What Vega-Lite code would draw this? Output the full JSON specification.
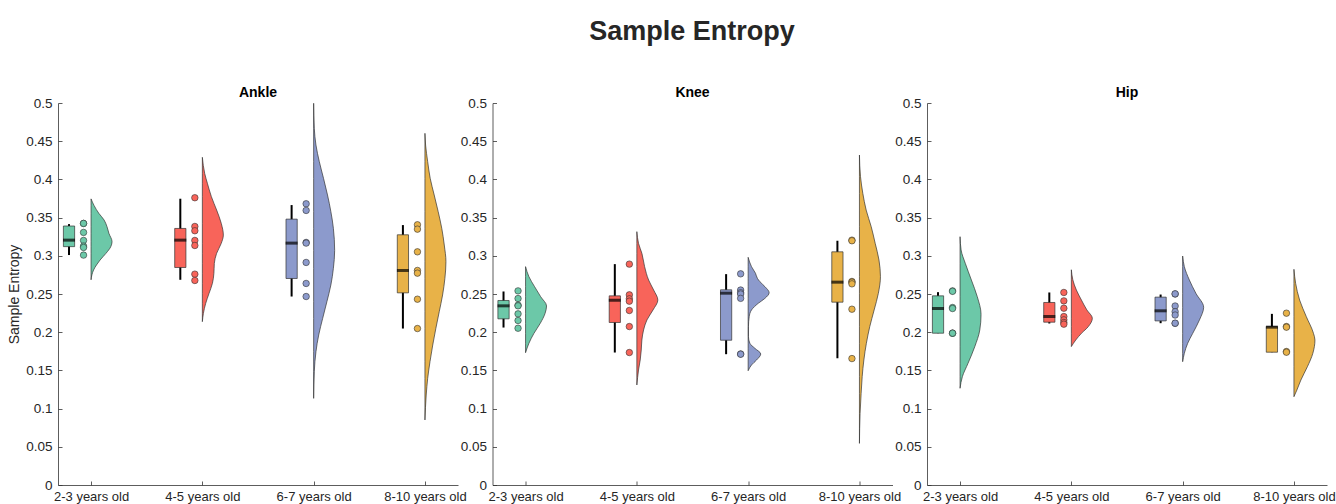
{
"$schema": "https://vega.github.io/schema/vega-lite/v6.json",
"padding": {"left": 7, "top": 17, "right": 5, "bottom": 5},
"title": {"text": "Sample Entropy", "fontSize": 27, "fontWeight": "bold", "color": "#262626", "anchor": "middle", "frame": "group", "dx": 634, "offset": 40},
"config": {
  "font": "Liberation Sans",
  "view": {"stroke": null},
  "title": {"fontSize": 14, "fontWeight": "bold", "color": "#000000", "offset": -3.5},
  "axis": {"domainColor": "#333333", "tickColor": "#333333", "labelColor": "#262626", "labelFontSize": 13.5, "titleFontSize": 14, "titleFontWeight": "normal", "titleColor": "#262626", "grid": false, "domainWidth": 0.8, "tickWidth": 0.8, "labelOverlap": false},
  "axisX": {"labelFontSize": 13},
  "axisY": {"tickCount": 12, "labelOverlap": false}
},
"data": {"values": [
{"kind":"box","joint":"Ankle","group":"2-3 years old","lo":0.301,"q1":0.312,"med":0.3205,"q3":0.339,"hi":0.3415},
{"kind":"box","joint":"Ankle","group":"4-5 years old","lo":0.2686,"q1":0.2847,"med":0.3205,"q3":0.3358,"hi":0.3747},
{"kind":"box","joint":"Ankle","group":"6-7 years old","lo":0.2467,"q1":0.2703,"med":0.3166,"q3":0.348,"hi":0.3664},
{"kind":"box","joint":"Ankle","group":"8-10 years old","lo":0.2048,"q1":0.2515,"med":0.2808,"q3":0.3275,"hi":0.3402},
{"kind":"box","joint":"Knee","group":"2-3 years old","lo":0.2061,"q1":0.2175,"med":0.2345,"q3":0.2415,"hi":0.2533},
{"kind":"box","joint":"Knee","group":"4-5 years old","lo":0.1734,"q1":0.2127,"med":0.2419,"q3":0.2476,"hi":0.2891},
{"kind":"box","joint":"Knee","group":"6-7 years old","lo":0.1712,"q1":0.1895,"med":0.2511,"q3":0.2555,"hi":0.276},
{"kind":"box","joint":"Knee","group":"8-10 years old","lo":0.1659,"q1":0.2393,"med":0.2655,"q3":0.3052,"hi":0.3197},
{"kind":"box","joint":"Hip","group":"2-3 years old","lo":0.1987,"q1":0.1987,"med":0.231,"q3":0.2476,"hi":0.2524},
{"kind":"box","joint":"Hip","group":"4-5 years old","lo":0.2114,"q1":0.2131,"med":0.2205,"q3":0.2389,"hi":0.252},
{"kind":"box","joint":"Hip","group":"6-7 years old","lo":0.2118,"q1":0.2148,"med":0.228,"q3":0.2459,"hi":0.2493},
{"kind":"box","joint":"Hip","group":"8-10 years old","lo":0.1738,"q1":0.1738,"med":0.2066,"q3":0.2074,"hi":0.224},

{"kind":"pt","joint":"Ankle","group":"2-3 years old","v":0.3424},
{"kind":"pt","joint":"Ankle","group":"2-3 years old","v":0.3424},
{"kind":"pt","joint":"Ankle","group":"2-3 years old","v":0.3306},
{"kind":"pt","joint":"Ankle","group":"2-3 years old","v":0.3201},
{"kind":"pt","joint":"Ankle","group":"2-3 years old","v":0.3127},
{"kind":"pt","joint":"Ankle","group":"2-3 years old","v":0.3109},
{"kind":"pt","joint":"Ankle","group":"2-3 years old","v":0.3009},
{"kind":"pt","joint":"Ankle","group":"4-5 years old","v":0.376},
{"kind":"pt","joint":"Ankle","group":"4-5 years old","v":0.3384},
{"kind":"pt","joint":"Ankle","group":"4-5 years old","v":0.3328},
{"kind":"pt","joint":"Ankle","group":"4-5 years old","v":0.3201},
{"kind":"pt","joint":"Ankle","group":"4-5 years old","v":0.3135},
{"kind":"pt","joint":"Ankle","group":"4-5 years old","v":0.276},
{"kind":"pt","joint":"Ankle","group":"4-5 years old","v":0.2677},
{"kind":"pt","joint":"Ankle","group":"6-7 years old","v":0.3681},
{"kind":"pt","joint":"Ankle","group":"6-7 years old","v":0.3594},
{"kind":"pt","joint":"Ankle","group":"6-7 years old","v":0.3175},
{"kind":"pt","joint":"Ankle","group":"6-7 years old","v":0.3166},
{"kind":"pt","joint":"Ankle","group":"6-7 years old","v":0.2913},
{"kind":"pt","joint":"Ankle","group":"6-7 years old","v":0.2638},
{"kind":"pt","joint":"Ankle","group":"6-7 years old","v":0.2467},
{"kind":"pt","joint":"Ankle","group":"8-10 years old","v":0.3406},
{"kind":"pt","joint":"Ankle","group":"8-10 years old","v":0.3349},
{"kind":"pt","joint":"Ankle","group":"8-10 years old","v":0.3052},
{"kind":"pt","joint":"Ankle","group":"8-10 years old","v":0.2808},
{"kind":"pt","joint":"Ankle","group":"8-10 years old","v":0.2773},
{"kind":"pt","joint":"Ankle","group":"8-10 years old","v":0.2432},
{"kind":"pt","joint":"Ankle","group":"8-10 years old","v":0.2048},
{"kind":"pt","joint":"Knee","group":"2-3 years old","v":0.2541},
{"kind":"pt","joint":"Knee","group":"2-3 years old","v":0.2441},
{"kind":"pt","joint":"Knee","group":"2-3 years old","v":0.2354},
{"kind":"pt","joint":"Knee","group":"2-3 years old","v":0.2345},
{"kind":"pt","joint":"Knee","group":"2-3 years old","v":0.224},
{"kind":"pt","joint":"Knee","group":"2-3 years old","v":0.2153},
{"kind":"pt","joint":"Knee","group":"2-3 years old","v":0.2052},
{"kind":"pt","joint":"Knee","group":"4-5 years old","v":0.2891},
{"kind":"pt","joint":"Knee","group":"4-5 years old","v":0.2489},
{"kind":"pt","joint":"Knee","group":"4-5 years old","v":0.2437},
{"kind":"pt","joint":"Knee","group":"4-5 years old","v":0.2406},
{"kind":"pt","joint":"Knee","group":"4-5 years old","v":0.2284},
{"kind":"pt","joint":"Knee","group":"4-5 years old","v":0.2074},
{"kind":"pt","joint":"Knee","group":"4-5 years old","v":0.1734},
{"kind":"pt","joint":"Knee","group":"6-7 years old","v":0.2764},
{"kind":"pt","joint":"Knee","group":"6-7 years old","v":0.2552},
{"kind":"pt","joint":"Knee","group":"6-7 years old","v":0.2517},
{"kind":"pt","joint":"Knee","group":"6-7 years old","v":0.25},
{"kind":"pt","joint":"Knee","group":"6-7 years old","v":0.2443},
{"kind":"pt","joint":"Knee","group":"6-7 years old","v":0.1715},
{"kind":"pt","joint":"Knee","group":"6-7 years old","v":0.1712},
{"kind":"pt","joint":"Knee","group":"8-10 years old","v":0.3205},
{"kind":"pt","joint":"Knee","group":"8-10 years old","v":0.3197},
{"kind":"pt","joint":"Knee","group":"8-10 years old","v":0.2664},
{"kind":"pt","joint":"Knee","group":"8-10 years old","v":0.2655},
{"kind":"pt","joint":"Knee","group":"8-10 years old","v":0.2633},
{"kind":"pt","joint":"Knee","group":"8-10 years old","v":0.2301},
{"kind":"pt","joint":"Knee","group":"8-10 years old","v":0.1655},
{"kind":"pt","joint":"Hip","group":"2-3 years old","v":0.2541},
{"kind":"pt","joint":"Hip","group":"2-3 years old","v":0.2535},
{"kind":"pt","joint":"Hip","group":"2-3 years old","v":0.2323},
{"kind":"pt","joint":"Hip","group":"2-3 years old","v":0.231},
{"kind":"pt","joint":"Hip","group":"2-3 years old","v":0.1987},
{"kind":"pt","joint":"Hip","group":"2-3 years old","v":0.1987},
{"kind":"pt","joint":"Hip","group":"2-3 years old","v":0.1987},
{"kind":"pt","joint":"Hip","group":"4-5 years old","v":0.252},
{"kind":"pt","joint":"Hip","group":"4-5 years old","v":0.241},
{"kind":"pt","joint":"Hip","group":"4-5 years old","v":0.2314},
{"kind":"pt","joint":"Hip","group":"4-5 years old","v":0.2205},
{"kind":"pt","joint":"Hip","group":"4-5 years old","v":0.2162},
{"kind":"pt","joint":"Hip","group":"4-5 years old","v":0.2127},
{"kind":"pt","joint":"Hip","group":"4-5 years old","v":0.2105},
{"kind":"pt","joint":"Hip","group":"6-7 years old","v":0.25},
{"kind":"pt","joint":"Hip","group":"6-7 years old","v":0.2502},
{"kind":"pt","joint":"Hip","group":"6-7 years old","v":0.2343},
{"kind":"pt","joint":"Hip","group":"6-7 years old","v":0.2269},
{"kind":"pt","joint":"Hip","group":"6-7 years old","v":0.2225},
{"kind":"pt","joint":"Hip","group":"6-7 years old","v":0.2116},
{"kind":"pt","joint":"Hip","group":"6-7 years old","v":0.2118},
{"kind":"pt","joint":"Hip","group":"8-10 years old","v":0.2249},
{"kind":"pt","joint":"Hip","group":"8-10 years old","v":0.2074},
{"kind":"pt","joint":"Hip","group":"8-10 years old","v":0.2066},
{"kind":"pt","joint":"Hip","group":"8-10 years old","v":0.1747},
{"kind":"pt","joint":"Hip","group":"8-10 years old","v":0.1738},

{"kind":"vio","joint":"Ankle","group":"2-3 years old","v":0.3745,"dens":0},
{"kind":"vio","joint":"Ankle","group":"2-3 years old","v":0.366,"dens":0.14},
{"kind":"vio","joint":"Ankle","group":"2-3 years old","v":0.3556,"dens":0.37},
{"kind":"vio","joint":"Ankle","group":"2-3 years old","v":0.3469,"dens":0.62},
{"kind":"vio","joint":"Ankle","group":"2-3 years old","v":0.3381,"dens":0.76},
{"kind":"vio","joint":"Ankle","group":"2-3 years old","v":0.3294,"dens":0.85},
{"kind":"vio","joint":"Ankle","group":"2-3 years old","v":0.3185,"dens":1.0},
{"kind":"vio","joint":"Ankle","group":"2-3 years old","v":0.312,"dens":0.94},
{"kind":"vio","joint":"Ankle","group":"2-3 years old","v":0.3032,"dens":0.71},
{"kind":"vio","joint":"Ankle","group":"2-3 years old","v":0.2945,"dens":0.43},
{"kind":"vio","joint":"Ankle","group":"2-3 years old","v":0.288,"dens":0.26},
{"kind":"vio","joint":"Ankle","group":"2-3 years old","v":0.2814,"dens":0.12},
{"kind":"vio","joint":"Ankle","group":"2-3 years old","v":0.275,"dens":0.04},
{"kind":"vio","joint":"Ankle","group":"2-3 years old","v":0.2686,"dens":0},
{"kind":"vio","joint":"Ankle","group":"4-5 years old","v":0.4289,"dens":0},
{"kind":"vio","joint":"Ankle","group":"4-5 years old","v":0.408,"dens":0.11},
{"kind":"vio","joint":"Ankle","group":"4-5 years old","v":0.3949,"dens":0.24},
{"kind":"vio","joint":"Ankle","group":"4-5 years old","v":0.3774,"dens":0.43},
{"kind":"vio","joint":"Ankle","group":"4-5 years old","v":0.3599,"dens":0.68},
{"kind":"vio","joint":"Ankle","group":"4-5 years old","v":0.3425,"dens":0.9},
{"kind":"vio","joint":"Ankle","group":"4-5 years old","v":0.3272,"dens":1.0},
{"kind":"vio","joint":"Ankle","group":"4-5 years old","v":0.3163,"dens":0.9},
{"kind":"vio","joint":"Ankle","group":"4-5 years old","v":0.3032,"dens":0.68},
{"kind":"vio","joint":"Ankle","group":"4-5 years old","v":0.2901,"dens":0.57},
{"kind":"vio","joint":"Ankle","group":"4-5 years old","v":0.2771,"dens":0.55},
{"kind":"vio","joint":"Ankle","group":"4-5 years old","v":0.264,"dens":0.48},
{"kind":"vio","joint":"Ankle","group":"4-5 years old","v":0.2509,"dens":0.32},
{"kind":"vio","joint":"Ankle","group":"4-5 years old","v":0.2378,"dens":0.16},
{"kind":"vio","joint":"Ankle","group":"4-5 years old","v":0.2247,"dens":0.05},
{"kind":"vio","joint":"Ankle","group":"4-5 years old","v":0.2138,"dens":0},
{"kind":"vio","joint":"Ankle","group":"6-7 years old","v":0.4996,"dens":0},
{"kind":"vio","joint":"Ankle","group":"6-7 years old","v":0.4669,"dens":0.03},
{"kind":"vio","joint":"Ankle","group":"6-7 years old","v":0.445,"dens":0.11},
{"kind":"vio","joint":"Ankle","group":"6-7 years old","v":0.4232,"dens":0.27},
{"kind":"vio","joint":"Ankle","group":"6-7 years old","v":0.4014,"dens":0.47},
{"kind":"vio","joint":"Ankle","group":"6-7 years old","v":0.3796,"dens":0.66},
{"kind":"vio","joint":"Ankle","group":"6-7 years old","v":0.3578,"dens":0.82},
{"kind":"vio","joint":"Ankle","group":"6-7 years old","v":0.336,"dens":0.94},
{"kind":"vio","joint":"Ankle","group":"6-7 years old","v":0.307,"dens":1.0},
{"kind":"vio","joint":"Ankle","group":"6-7 years old","v":0.2836,"dens":0.94},
{"kind":"vio","joint":"Ankle","group":"6-7 years old","v":0.2618,"dens":0.82},
{"kind":"vio","joint":"Ankle","group":"6-7 years old","v":0.2399,"dens":0.63},
{"kind":"vio","joint":"Ankle","group":"6-7 years old","v":0.2181,"dens":0.43},
{"kind":"vio","joint":"Ankle","group":"6-7 years old","v":0.1963,"dens":0.24},
{"kind":"vio","joint":"Ankle","group":"6-7 years old","v":0.1745,"dens":0.11},
{"kind":"vio","joint":"Ankle","group":"6-7 years old","v":0.1483,"dens":0.03},
{"kind":"vio","joint":"Ankle","group":"6-7 years old","v":0.1134,"dens":0},
{"kind":"vio","joint":"Ankle","group":"8-10 years old","v":0.4603,"dens":0},
{"kind":"vio","joint":"Ankle","group":"8-10 years old","v":0.445,"dens":0.03},
{"kind":"vio","joint":"Ankle","group":"8-10 years old","v":0.4232,"dens":0.13},
{"kind":"vio","joint":"Ankle","group":"8-10 years old","v":0.4014,"dens":0.25},
{"kind":"vio","joint":"Ankle","group":"8-10 years old","v":0.3796,"dens":0.44},
{"kind":"vio","joint":"Ankle","group":"8-10 years old","v":0.3578,"dens":0.63},
{"kind":"vio","joint":"Ankle","group":"8-10 years old","v":0.336,"dens":0.8},
{"kind":"vio","joint":"Ankle","group":"8-10 years old","v":0.3141,"dens":0.92},
{"kind":"vio","joint":"Ankle","group":"8-10 years old","v":0.2923,"dens":1.0},
{"kind":"vio","joint":"Ankle","group":"8-10 years old","v":0.2705,"dens":0.95},
{"kind":"vio","joint":"Ankle","group":"8-10 years old","v":0.2487,"dens":0.84},
{"kind":"vio","joint":"Ankle","group":"8-10 years old","v":0.2268,"dens":0.68},
{"kind":"vio","joint":"Ankle","group":"8-10 years old","v":0.2051,"dens":0.52},
{"kind":"vio","joint":"Ankle","group":"8-10 years old","v":0.1832,"dens":0.37},
{"kind":"vio","joint":"Ankle","group":"8-10 years old","v":0.1614,"dens":0.24},
{"kind":"vio","joint":"Ankle","group":"8-10 years old","v":0.1396,"dens":0.13},
{"kind":"vio","joint":"Ankle","group":"8-10 years old","v":0.1178,"dens":0.06},
{"kind":"vio","joint":"Ankle","group":"8-10 years old","v":0.0851,"dens":0},
{"kind":"vio","joint":"Knee","group":"2-3 years old","v":0.2858,"dens":0},
{"kind":"vio","joint":"Knee","group":"2-3 years old","v":0.2727,"dens":0.16},
{"kind":"vio","joint":"Knee","group":"2-3 years old","v":0.2596,"dens":0.43},
{"kind":"vio","joint":"Knee","group":"2-3 years old","v":0.2465,"dens":0.72},
{"kind":"vio","joint":"Knee","group":"2-3 years old","v":0.2343,"dens":1.0},
{"kind":"vio","joint":"Knee","group":"2-3 years old","v":0.2247,"dens":0.93},
{"kind":"vio","joint":"Knee","group":"2-3 years old","v":0.2116,"dens":0.7},
{"kind":"vio","joint":"Knee","group":"2-3 years old","v":0.1985,"dens":0.4},
{"kind":"vio","joint":"Knee","group":"2-3 years old","v":0.1855,"dens":0.16},
{"kind":"vio","joint":"Knee","group":"2-3 years old","v":0.1732,"dens":0},
{"kind":"vio","joint":"Knee","group":"4-5 years old","v":0.3316,"dens":0},
{"kind":"vio","joint":"Knee","group":"4-5 years old","v":0.3163,"dens":0.08},
{"kind":"vio","joint":"Knee","group":"4-5 years old","v":0.3032,"dens":0.24},
{"kind":"vio","joint":"Knee","group":"4-5 years old","v":0.2858,"dens":0.37},
{"kind":"vio","joint":"Knee","group":"4-5 years old","v":0.2683,"dens":0.56},
{"kind":"vio","joint":"Knee","group":"4-5 years old","v":0.2552,"dens":0.8},
{"kind":"vio","joint":"Knee","group":"4-5 years old","v":0.2421,"dens":1.0},
{"kind":"vio","joint":"Knee","group":"4-5 years old","v":0.2291,"dens":0.77},
{"kind":"vio","joint":"Knee","group":"4-5 years old","v":0.216,"dens":0.48},
{"kind":"vio","joint":"Knee","group":"4-5 years old","v":0.2029,"dens":0.32},
{"kind":"vio","joint":"Knee","group":"4-5 years old","v":0.1898,"dens":0.24},
{"kind":"vio","joint":"Knee","group":"4-5 years old","v":0.1767,"dens":0.21},
{"kind":"vio","joint":"Knee","group":"4-5 years old","v":0.1636,"dens":0.16},
{"kind":"vio","joint":"Knee","group":"4-5 years old","v":0.1505,"dens":0.08},
{"kind":"vio","joint":"Knee","group":"4-5 years old","v":0.1309,"dens":0},
{"kind":"vio","joint":"Knee","group":"6-7 years old","v":0.298,"dens":0},
{"kind":"vio","joint":"Knee","group":"6-7 years old","v":0.2858,"dens":0.16},
{"kind":"vio","joint":"Knee","group":"6-7 years old","v":0.2771,"dens":0.35},
{"kind":"vio","joint":"Knee","group":"6-7 years old","v":0.2705,"dens":0.44},
{"kind":"vio","joint":"Knee","group":"6-7 years old","v":0.2661,"dens":0.56},
{"kind":"vio","joint":"Knee","group":"6-7 years old","v":0.2596,"dens":0.8},
{"kind":"vio","joint":"Knee","group":"6-7 years old","v":0.2517,"dens":1.0},
{"kind":"vio","joint":"Knee","group":"6-7 years old","v":0.2443,"dens":0.8},
{"kind":"vio","joint":"Knee","group":"6-7 years old","v":0.2378,"dens":0.48},
{"kind":"vio","joint":"Knee","group":"6-7 years old","v":0.2291,"dens":0.16},
{"kind":"vio","joint":"Knee","group":"6-7 years old","v":0.2203,"dens":0.05},
{"kind":"vio","joint":"Knee","group":"6-7 years old","v":0.2072,"dens":0.015},
{"kind":"vio","joint":"Knee","group":"6-7 years old","v":0.1941,"dens":0.015},
{"kind":"vio","joint":"Knee","group":"6-7 years old","v":0.1855,"dens":0.08},
{"kind":"vio","joint":"Knee","group":"6-7 years old","v":0.1789,"dens":0.32},
{"kind":"vio","joint":"Knee","group":"6-7 years old","v":0.1715,"dens":0.6},
{"kind":"vio","joint":"Knee","group":"6-7 years old","v":0.1636,"dens":0.4},
{"kind":"vio","joint":"Knee","group":"6-7 years old","v":0.1571,"dens":0.16},
{"kind":"vio","joint":"Knee","group":"6-7 years old","v":0.1496,"dens":0},
{"kind":"vio","joint":"Knee","group":"8-10 years old","v":0.4319,"dens":0},
{"kind":"vio","joint":"Knee","group":"8-10 years old","v":0.4035,"dens":0.05},
{"kind":"vio","joint":"Knee","group":"8-10 years old","v":0.3818,"dens":0.16},
{"kind":"vio","joint":"Knee","group":"8-10 years old","v":0.3599,"dens":0.32},
{"kind":"vio","joint":"Knee","group":"8-10 years old","v":0.3381,"dens":0.56},
{"kind":"vio","joint":"Knee","group":"8-10 years old","v":0.3163,"dens":0.75},
{"kind":"vio","joint":"Knee","group":"8-10 years old","v":0.2945,"dens":0.93},
{"kind":"vio","joint":"Knee","group":"8-10 years old","v":0.2727,"dens":1.0},
{"kind":"vio","joint":"Knee","group":"8-10 years old","v":0.2509,"dens":0.9},
{"kind":"vio","joint":"Knee","group":"8-10 years old","v":0.2291,"dens":0.7},
{"kind":"vio","joint":"Knee","group":"8-10 years old","v":0.2072,"dens":0.49},
{"kind":"vio","joint":"Knee","group":"8-10 years old","v":0.1855,"dens":0.33},
{"kind":"vio","joint":"Knee","group":"8-10 years old","v":0.1636,"dens":0.21},
{"kind":"vio","joint":"Knee","group":"8-10 years old","v":0.1418,"dens":0.13},
{"kind":"vio","joint":"Knee","group":"8-10 years old","v":0.12,"dens":0.08},
{"kind":"vio","joint":"Knee","group":"8-10 years old","v":0.0938,"dens":0.03},
{"kind":"vio","joint":"Knee","group":"8-10 years old","v":0.0545,"dens":0},
{"kind":"vio","joint":"Hip","group":"2-3 years old","v":0.325,"dens":0},
{"kind":"vio","joint":"Hip","group":"2-3 years old","v":0.3076,"dens":0.05},
{"kind":"vio","joint":"Hip","group":"2-3 years old","v":0.2901,"dens":0.25},
{"kind":"vio","joint":"Hip","group":"2-3 years old","v":0.2683,"dens":0.54},
{"kind":"vio","joint":"Hip","group":"2-3 years old","v":0.2465,"dens":0.82},
{"kind":"vio","joint":"Hip","group":"2-3 years old","v":0.2234,"dens":1.0},
{"kind":"vio","joint":"Hip","group":"2-3 years old","v":0.2029,"dens":0.94},
{"kind":"vio","joint":"Hip","group":"2-3 years old","v":0.181,"dens":0.7},
{"kind":"vio","joint":"Hip","group":"2-3 years old","v":0.1593,"dens":0.38},
{"kind":"vio","joint":"Hip","group":"2-3 years old","v":0.1418,"dens":0.11},
{"kind":"vio","joint":"Hip","group":"2-3 years old","v":0.1266,"dens":0},
{"kind":"vio","joint":"Hip","group":"4-5 years old","v":0.2817,"dens":0},
{"kind":"vio","joint":"Hip","group":"4-5 years old","v":0.2686,"dens":0.07},
{"kind":"vio","joint":"Hip","group":"4-5 years old","v":0.2552,"dens":0.24},
{"kind":"vio","joint":"Hip","group":"4-5 years old","v":0.2421,"dens":0.48},
{"kind":"vio","joint":"Hip","group":"4-5 years old","v":0.2291,"dens":0.74},
{"kind":"vio","joint":"Hip","group":"4-5 years old","v":0.2183,"dens":1.0},
{"kind":"vio","joint":"Hip","group":"4-5 years old","v":0.2074,"dens":0.81},
{"kind":"vio","joint":"Hip","group":"4-5 years old","v":0.1985,"dens":0.48},
{"kind":"vio","joint":"Hip","group":"4-5 years old","v":0.1898,"dens":0.21},
{"kind":"vio","joint":"Hip","group":"4-5 years old","v":0.1812,"dens":0},
{"kind":"vio","joint":"Hip","group":"6-7 years old","v":0.2997,"dens":0},
{"kind":"vio","joint":"Hip","group":"6-7 years old","v":0.2858,"dens":0.08},
{"kind":"vio","joint":"Hip","group":"6-7 years old","v":0.2683,"dens":0.32},
{"kind":"vio","joint":"Hip","group":"6-7 years old","v":0.2509,"dens":0.63},
{"kind":"vio","joint":"Hip","group":"6-7 years old","v":0.2326,"dens":1.0},
{"kind":"vio","joint":"Hip","group":"6-7 years old","v":0.216,"dens":0.8},
{"kind":"vio","joint":"Hip","group":"6-7 years old","v":0.1985,"dens":0.48},
{"kind":"vio","joint":"Hip","group":"6-7 years old","v":0.1855,"dens":0.24},
{"kind":"vio","joint":"Hip","group":"6-7 years old","v":0.1724,"dens":0.08},
{"kind":"vio","joint":"Hip","group":"6-7 years old","v":0.1614,"dens":0},
{"kind":"vio","joint":"Hip","group":"8-10 years old","v":0.2823,"dens":0},
{"kind":"vio","joint":"Hip","group":"8-10 years old","v":0.264,"dens":0.08},
{"kind":"vio","joint":"Hip","group":"8-10 years old","v":0.2421,"dens":0.27},
{"kind":"vio","joint":"Hip","group":"8-10 years old","v":0.2203,"dens":0.59},
{"kind":"vio","joint":"Hip","group":"8-10 years old","v":0.1985,"dens":0.93},
{"kind":"vio","joint":"Hip","group":"8-10 years old","v":0.1898,"dens":1.0},
{"kind":"vio","joint":"Hip","group":"8-10 years old","v":0.1724,"dens":0.9},
{"kind":"vio","joint":"Hip","group":"8-10 years old","v":0.1548,"dens":0.64},
{"kind":"vio","joint":"Hip","group":"8-10 years old","v":0.1374,"dens":0.33},
{"kind":"vio","joint":"Hip","group":"8-10 years old","v":0.1243,"dens":0.14},
{"kind":"vio","joint":"Hip","group":"8-10 years old","v":0.1156,"dens":0}
]},
"hconcat": [
{
 "width": 400, "height": 382,
 "title": {"text": "Ankle"},
 "transform": [{"filter": "datum.joint == 'Ankle'"}],
 "resolve": {"scale": {"x": "independent"}},
 "layer": [
  {"transform": [{"filter": "datum.kind == 'box'"}],
   "mark": {"type": "point", "opacity": 0},
   "encoding": {
    "x": {"field": "group", "type": "nominal", "scale": {"type": "point", "domain": ["2-3 years old","4-5 years old","6-7 years old","8-10 years old"], "padding": 0.297}, "axis": {"title": null, "labelAngle": 0, "tickSize": -4, "labelPadding": 9, "labelOverlap": false}},
    "y": {"field": "med", "type": "quantitative", "scale": {"domain": [0, 0.5], "nice": false}, "axis": {"title": "Sample Entropy", "values": [0,0.05,0.1,0.15,0.2,0.25,0.3,0.35,0.4,0.45,0.5], "tickCount": 12, "format": "~g", "tickSize": -4, "labelPadding": 10, "titlePadding": 4, "labelOverlap": false}}}},
  {"transform": [{"filter": "datum.kind == 'box'"}],
   "encoding": {"x": {"field": "group", "type": "nominal", "scale": {"type": "band", "domain": ["2-3 years old","4-5 years old","6-7 years old","8-10 years old"], "paddingInner": 0.899, "paddingOuter": 0.2465, "align": 0.0984}, "axis": null}},
   "layer": [
    {"mark": {"type": "rule", "color": "#000000", "strokeWidth": 2}, "encoding": {"y": {"field": "lo", "type": "quantitative", "axis": {"title": "Sample Entropy", "values": [0,0.05,0.1,0.15,0.2,0.25,0.3,0.35,0.4,0.45,0.5], "tickCount": 12, "format": "~g", "tickSize": -4, "labelPadding": 10, "titlePadding": 4, "labelOverlap": false}}, "y2": {"field": "hi"}}},
    {"mark": {"type": "bar", "stroke": "#333333", "strokeWidth": 0.7}, "encoding": {"y": {"field": "q1", "type": "quantitative", "axis": {"title": "Sample Entropy", "values": [0,0.05,0.1,0.15,0.2,0.25,0.3,0.35,0.4,0.45,0.5], "tickCount": 12, "format": "~g", "tickSize": -4, "labelPadding": 10, "titlePadding": 4, "labelOverlap": false}}, "y2": {"field": "q3"}, "color": {"field": "group", "type": "nominal", "scale": {"domain": ["2-3 years old","4-5 years old","6-7 years old","8-10 years old"], "range": ["#6CC8A8","#F8645A","#8C9ACC","#E8B248"]}, "legend": null}}},
    {"mark": {"type": "tick", "orient": "horizontal", "color": "#000000", "thickness": 3, "size": 12}, "encoding": {"y": {"field": "med", "type": "quantitative", "axis": {"title": "Sample Entropy", "values": [0,0.05,0.1,0.15,0.2,0.25,0.3,0.35,0.4,0.45,0.5], "tickCount": 12, "format": "~g", "tickSize": -4, "labelPadding": 10, "titlePadding": 4, "labelOverlap": false}}}}
   ]},
  {"transform": [{"filter": "datum.kind == 'pt'"}],
   "mark": {"type": "circle", "size": 42, "opacity": 1, "stroke": "#333333", "strokeWidth": 0.6},
   "encoding": {
    "x": {"field": "group", "type": "nominal", "scale": {"type": "point", "domain": ["2-3 years old","4-5 years old","6-7 years old","8-10 years old"], "padding": 0.297, "align": 0.3865}, "axis": null},
    "y": {"field": "v", "type": "quantitative", "axis": {"title": "Sample Entropy", "values": [0,0.05,0.1,0.15,0.2,0.25,0.3,0.35,0.4,0.45,0.5], "tickCount": 12, "format": "~g", "tickSize": -4, "labelPadding": 10, "titlePadding": 4, "labelOverlap": false}},
    "color": {"field": "group", "type": "nominal", "scale": {"domain": ["2-3 years old","4-5 years old","6-7 years old","8-10 years old"], "range": ["#6CC8A8","#F8645A","#8C9ACC","#E8B248"]}, "legend": null}}},
  {"transform": [{"filter": "datum.kind == 'vio' && datum.group == '2-3 years old'"}],
   "mark": {"type": "area", "orient": "horizontal", "interpolate": "monotone", "fill": "#6CC8A8", "stroke": "#333333", "strokeWidth": 0.7},
   "encoding": {"x": {"field": "dens", "type": "quantitative", "scale": {"domain": [-1.5738, 17.4738], "nice": false}, "axis": null}, "y": {"field": "v", "type": "quantitative", "axis": {"title": "Sample Entropy", "values": [0,0.05,0.1,0.15,0.2,0.25,0.3,0.35,0.4,0.45,0.5], "tickCount": 12, "format": "~g", "tickSize": -4, "labelPadding": 10, "titlePadding": 4, "labelOverlap": false}}}},
  {"transform": [{"filter": "datum.kind == 'vio' && datum.group == '4-5 years old'"}],
   "mark": {"type": "area", "orient": "horizontal", "interpolate": "monotone", "fill": "#F8645A", "stroke": "#333333", "strokeWidth": 0.7},
   "encoding": {"x": {"field": "dens", "type": "quantitative", "scale": {"domain": [-6.8738, 12.1738], "nice": false}, "axis": null}, "y": {"field": "v", "type": "quantitative", "axis": {"title": "Sample Entropy", "values": [0,0.05,0.1,0.15,0.2,0.25,0.3,0.35,0.4,0.45,0.5], "tickCount": 12, "format": "~g", "tickSize": -4, "labelPadding": 10, "titlePadding": 4, "labelOverlap": false}}}},
  {"transform": [{"filter": "datum.kind == 'vio' && datum.group == '6-7 years old'"}],
   "mark": {"type": "area", "orient": "horizontal", "interpolate": "monotone", "fill": "#8C9ACC", "stroke": "#333333", "strokeWidth": 0.7},
   "encoding": {"x": {"field": "dens", "type": "quantitative", "scale": {"domain": [-12.1738, 6.8738], "nice": false}, "axis": null}, "y": {"field": "v", "type": "quantitative", "axis": {"title": "Sample Entropy", "values": [0,0.05,0.1,0.15,0.2,0.25,0.3,0.35,0.4,0.45,0.5], "tickCount": 12, "format": "~g", "tickSize": -4, "labelPadding": 10, "titlePadding": 4, "labelOverlap": false}}}},
  {"transform": [{"filter": "datum.kind == 'vio' && datum.group == '8-10 years old'"}],
   "mark": {"type": "area", "orient": "horizontal", "interpolate": "monotone", "fill": "#E8B248", "stroke": "#333333", "strokeWidth": 0.7},
   "encoding": {"x": {"field": "dens", "type": "quantitative", "scale": {"domain": [-17.4738, 1.5738], "nice": false}, "axis": null}, "y": {"field": "v", "type": "quantitative", "axis": {"title": "Sample Entropy", "values": [0,0.05,0.1,0.15,0.2,0.25,0.3,0.35,0.4,0.45,0.5], "tickCount": 12, "format": "~g", "tickSize": -4, "labelPadding": 10, "titlePadding": 4, "labelOverlap": false}}}}
 ]
},
{
 "width": 400, "height": 382,
 "title": {"text": "Knee"},
 "transform": [{"filter": "datum.joint == 'Knee'"}],
 "resolve": {"scale": {"x": "independent"}},
 "layer": [
  {"transform": [{"filter": "datum.kind == 'box'"}],
   "mark": {"type": "point", "opacity": 0},
   "encoding": {
    "x": {"field": "group", "type": "nominal", "scale": {"type": "point", "domain": ["2-3 years old","4-5 years old","6-7 years old","8-10 years old"], "padding": 0.297}, "axis": {"title": null, "labelAngle": 0, "tickSize": -4, "labelPadding": 9, "labelOverlap": false}},
    "y": {"field": "med", "type": "quantitative", "scale": {"domain": [0, 0.5], "nice": false}, "axis": {"title": null, "values": [0,0.05,0.1,0.15,0.2,0.25,0.3,0.35,0.4,0.45,0.5], "tickCount": 12, "format": "~g", "tickSize": -4, "labelPadding": 10, "labelOverlap": false}}}},
  {"transform": [{"filter": "datum.kind == 'box'"}],
   "encoding": {"x": {"field": "group", "type": "nominal", "scale": {"type": "band", "domain": ["2-3 years old","4-5 years old","6-7 years old","8-10 years old"], "paddingInner": 0.899, "paddingOuter": 0.2465, "align": 0.0984}, "axis": null}},
   "layer": [
    {"mark": {"type": "rule", "color": "#000000", "strokeWidth": 2}, "encoding": {"y": {"field": "lo", "type": "quantitative", "axis": {"title": null, "values": [0,0.05,0.1,0.15,0.2,0.25,0.3,0.35,0.4,0.45,0.5], "tickCount": 12, "format": "~g", "tickSize": -4, "labelPadding": 10, "labelOverlap": false}}, "y2": {"field": "hi"}}},
    {"mark": {"type": "bar", "stroke": "#333333", "strokeWidth": 0.7}, "encoding": {"y": {"field": "q1", "type": "quantitative", "axis": {"title": null, "values": [0,0.05,0.1,0.15,0.2,0.25,0.3,0.35,0.4,0.45,0.5], "tickCount": 12, "format": "~g", "tickSize": -4, "labelPadding": 10, "labelOverlap": false}}, "y2": {"field": "q3"}, "color": {"field": "group", "type": "nominal", "scale": {"domain": ["2-3 years old","4-5 years old","6-7 years old","8-10 years old"], "range": ["#6CC8A8","#F8645A","#8C9ACC","#E8B248"]}, "legend": null}}},
    {"mark": {"type": "tick", "orient": "horizontal", "color": "#000000", "thickness": 3, "size": 12}, "encoding": {"y": {"field": "med", "type": "quantitative", "axis": {"title": null, "values": [0,0.05,0.1,0.15,0.2,0.25,0.3,0.35,0.4,0.45,0.5], "tickCount": 12, "format": "~g", "tickSize": -4, "labelPadding": 10, "labelOverlap": false}}}}
   ]},
  {"transform": [{"filter": "datum.kind == 'pt'"}],
   "mark": {"type": "circle", "size": 42, "opacity": 1, "stroke": "#333333", "strokeWidth": 0.6},
   "encoding": {
    "x": {"field": "group", "type": "nominal", "scale": {"type": "point", "domain": ["2-3 years old","4-5 years old","6-7 years old","8-10 years old"], "padding": 0.297, "align": 0.3865}, "axis": null},
    "y": {"field": "v", "type": "quantitative", "axis": {"title": null, "values": [0,0.05,0.1,0.15,0.2,0.25,0.3,0.35,0.4,0.45,0.5], "tickCount": 12, "format": "~g", "tickSize": -4, "labelPadding": 10, "labelOverlap": false}},
    "color": {"field": "group", "type": "nominal", "scale": {"domain": ["2-3 years old","4-5 years old","6-7 years old","8-10 years old"], "range": ["#6CC8A8","#F8645A","#8C9ACC","#E8B248"]}, "legend": null}}},
  {"transform": [{"filter": "datum.kind == 'vio' && datum.group == '2-3 years old'"}],
   "mark": {"type": "area", "orient": "horizontal", "interpolate": "monotone", "fill": "#6CC8A8", "stroke": "#333333", "strokeWidth": 0.7},
   "encoding": {"x": {"field": "dens", "type": "quantitative", "scale": {"domain": [-1.5738, 17.4738], "nice": false}, "axis": null}, "y": {"field": "v", "type": "quantitative", "axis": {"title": null, "values": [0,0.05,0.1,0.15,0.2,0.25,0.3,0.35,0.4,0.45,0.5], "tickCount": 12, "format": "~g", "tickSize": -4, "labelPadding": 10, "labelOverlap": false}}}},
  {"transform": [{"filter": "datum.kind == 'vio' && datum.group == '4-5 years old'"}],
   "mark": {"type": "area", "orient": "horizontal", "interpolate": "monotone", "fill": "#F8645A", "stroke": "#333333", "strokeWidth": 0.7},
   "encoding": {"x": {"field": "dens", "type": "quantitative", "scale": {"domain": [-6.8738, 12.1738], "nice": false}, "axis": null}, "y": {"field": "v", "type": "quantitative", "axis": {"title": null, "values": [0,0.05,0.1,0.15,0.2,0.25,0.3,0.35,0.4,0.45,0.5], "tickCount": 12, "format": "~g", "tickSize": -4, "labelPadding": 10, "labelOverlap": false}}}},
  {"transform": [{"filter": "datum.kind == 'vio' && datum.group == '6-7 years old'"}],
   "mark": {"type": "area", "orient": "horizontal", "interpolate": "monotone", "fill": "#8C9ACC", "stroke": "#333333", "strokeWidth": 0.7},
   "encoding": {"x": {"field": "dens", "type": "quantitative", "scale": {"domain": [-12.1738, 6.8738], "nice": false}, "axis": null}, "y": {"field": "v", "type": "quantitative", "axis": {"title": null, "values": [0,0.05,0.1,0.15,0.2,0.25,0.3,0.35,0.4,0.45,0.5], "tickCount": 12, "format": "~g", "tickSize": -4, "labelPadding": 10, "labelOverlap": false}}}},
  {"transform": [{"filter": "datum.kind == 'vio' && datum.group == '8-10 years old'"}],
   "mark": {"type": "area", "orient": "horizontal", "interpolate": "monotone", "fill": "#E8B248", "stroke": "#333333", "strokeWidth": 0.7},
   "encoding": {"x": {"field": "dens", "type": "quantitative", "scale": {"domain": [-17.4738, 1.5738], "nice": false}, "axis": null}, "y": {"field": "v", "type": "quantitative", "axis": {"title": null, "values": [0,0.05,0.1,0.15,0.2,0.25,0.3,0.35,0.4,0.45,0.5], "tickCount": 12, "format": "~g", "tickSize": -4, "labelPadding": 10, "labelOverlap": false}}}}
 ]
},
{
 "width": 400, "height": 382,
 "title": {"text": "Hip"},
 "transform": [{"filter": "datum.joint == 'Hip'"}],
 "resolve": {"scale": {"x": "independent"}},
 "layer": [
  {"transform": [{"filter": "datum.kind == 'box'"}],
   "mark": {"type": "point", "opacity": 0},
   "encoding": {
    "x": {"field": "group", "type": "nominal", "scale": {"type": "point", "domain": ["2-3 years old","4-5 years old","6-7 years old","8-10 years old"], "padding": 0.297}, "axis": {"title": null, "labelAngle": 0, "tickSize": -4, "labelPadding": 9, "labelOverlap": false}},
    "y": {"field": "med", "type": "quantitative", "scale": {"domain": [0, 0.5], "nice": false}, "axis": {"title": null, "values": [0,0.05,0.1,0.15,0.2,0.25,0.3,0.35,0.4,0.45,0.5], "tickCount": 12, "format": "~g", "tickSize": -4, "labelPadding": 10, "labelOverlap": false}}}},
  {"transform": [{"filter": "datum.kind == 'box'"}],
   "encoding": {"x": {"field": "group", "type": "nominal", "scale": {"type": "band", "domain": ["2-3 years old","4-5 years old","6-7 years old","8-10 years old"], "paddingInner": 0.899, "paddingOuter": 0.2465, "align": 0.0984}, "axis": null}},
   "layer": [
    {"mark": {"type": "rule", "color": "#000000", "strokeWidth": 2}, "encoding": {"y": {"field": "lo", "type": "quantitative", "axis": {"title": null, "values": [0,0.05,0.1,0.15,0.2,0.25,0.3,0.35,0.4,0.45,0.5], "tickCount": 12, "format": "~g", "tickSize": -4, "labelPadding": 10, "labelOverlap": false}}, "y2": {"field": "hi"}}},
    {"mark": {"type": "bar", "stroke": "#333333", "strokeWidth": 0.7}, "encoding": {"y": {"field": "q1", "type": "quantitative", "axis": {"title": null, "values": [0,0.05,0.1,0.15,0.2,0.25,0.3,0.35,0.4,0.45,0.5], "tickCount": 12, "format": "~g", "tickSize": -4, "labelPadding": 10, "labelOverlap": false}}, "y2": {"field": "q3"}, "color": {"field": "group", "type": "nominal", "scale": {"domain": ["2-3 years old","4-5 years old","6-7 years old","8-10 years old"], "range": ["#6CC8A8","#F8645A","#8C9ACC","#E8B248"]}, "legend": null}}},
    {"mark": {"type": "tick", "orient": "horizontal", "color": "#000000", "thickness": 3, "size": 12}, "encoding": {"y": {"field": "med", "type": "quantitative", "axis": {"title": null, "values": [0,0.05,0.1,0.15,0.2,0.25,0.3,0.35,0.4,0.45,0.5], "tickCount": 12, "format": "~g", "tickSize": -4, "labelPadding": 10, "labelOverlap": false}}}}
   ]},
  {"transform": [{"filter": "datum.kind == 'pt'"}],
   "mark": {"type": "circle", "size": 42, "opacity": 1, "stroke": "#333333", "strokeWidth": 0.6},
   "encoding": {
    "x": {"field": "group", "type": "nominal", "scale": {"type": "point", "domain": ["2-3 years old","4-5 years old","6-7 years old","8-10 years old"], "padding": 0.297, "align": 0.3865}, "axis": null},
    "y": {"field": "v", "type": "quantitative", "axis": {"title": null, "values": [0,0.05,0.1,0.15,0.2,0.25,0.3,0.35,0.4,0.45,0.5], "tickCount": 12, "format": "~g", "tickSize": -4, "labelPadding": 10, "labelOverlap": false}},
    "color": {"field": "group", "type": "nominal", "scale": {"domain": ["2-3 years old","4-5 years old","6-7 years old","8-10 years old"], "range": ["#6CC8A8","#F8645A","#8C9ACC","#E8B248"]}, "legend": null}}},
  {"transform": [{"filter": "datum.kind == 'vio' && datum.group == '2-3 years old'"}],
   "mark": {"type": "area", "orient": "horizontal", "interpolate": "monotone", "fill": "#6CC8A8", "stroke": "#333333", "strokeWidth": 0.7},
   "encoding": {"x": {"field": "dens", "type": "quantitative", "scale": {"domain": [-1.5738, 17.4738], "nice": false}, "axis": null}, "y": {"field": "v", "type": "quantitative", "axis": {"title": null, "values": [0,0.05,0.1,0.15,0.2,0.25,0.3,0.35,0.4,0.45,0.5], "tickCount": 12, "format": "~g", "tickSize": -4, "labelPadding": 10, "labelOverlap": false}}}},
  {"transform": [{"filter": "datum.kind == 'vio' && datum.group == '4-5 years old'"}],
   "mark": {"type": "area", "orient": "horizontal", "interpolate": "monotone", "fill": "#F8645A", "stroke": "#333333", "strokeWidth": 0.7},
   "encoding": {"x": {"field": "dens", "type": "quantitative", "scale": {"domain": [-6.8738, 12.1738], "nice": false}, "axis": null}, "y": {"field": "v", "type": "quantitative", "axis": {"title": null, "values": [0,0.05,0.1,0.15,0.2,0.25,0.3,0.35,0.4,0.45,0.5], "tickCount": 12, "format": "~g", "tickSize": -4, "labelPadding": 10, "labelOverlap": false}}}},
  {"transform": [{"filter": "datum.kind == 'vio' && datum.group == '6-7 years old'"}],
   "mark": {"type": "area", "orient": "horizontal", "interpolate": "monotone", "fill": "#8C9ACC", "stroke": "#333333", "strokeWidth": 0.7},
   "encoding": {"x": {"field": "dens", "type": "quantitative", "scale": {"domain": [-12.1738, 6.8738], "nice": false}, "axis": null}, "y": {"field": "v", "type": "quantitative", "axis": {"title": null, "values": [0,0.05,0.1,0.15,0.2,0.25,0.3,0.35,0.4,0.45,0.5], "tickCount": 12, "format": "~g", "tickSize": -4, "labelPadding": 10, "labelOverlap": false}}}},
  {"transform": [{"filter": "datum.kind == 'vio' && datum.group == '8-10 years old'"}],
   "mark": {"type": "area", "orient": "horizontal", "interpolate": "monotone", "fill": "#E8B248", "stroke": "#333333", "strokeWidth": 0.7},
   "encoding": {"x": {"field": "dens", "type": "quantitative", "scale": {"domain": [-17.4738, 1.5738], "nice": false}, "axis": null}, "y": {"field": "v", "type": "quantitative", "axis": {"title": null, "values": [0,0.05,0.1,0.15,0.2,0.25,0.3,0.35,0.4,0.45,0.5], "tickCount": 12, "format": "~g", "tickSize": -4, "labelPadding": 10, "labelOverlap": false}}}}
 ]
}
],
"spacing": 34.5,
"bounds": "flush"
}
